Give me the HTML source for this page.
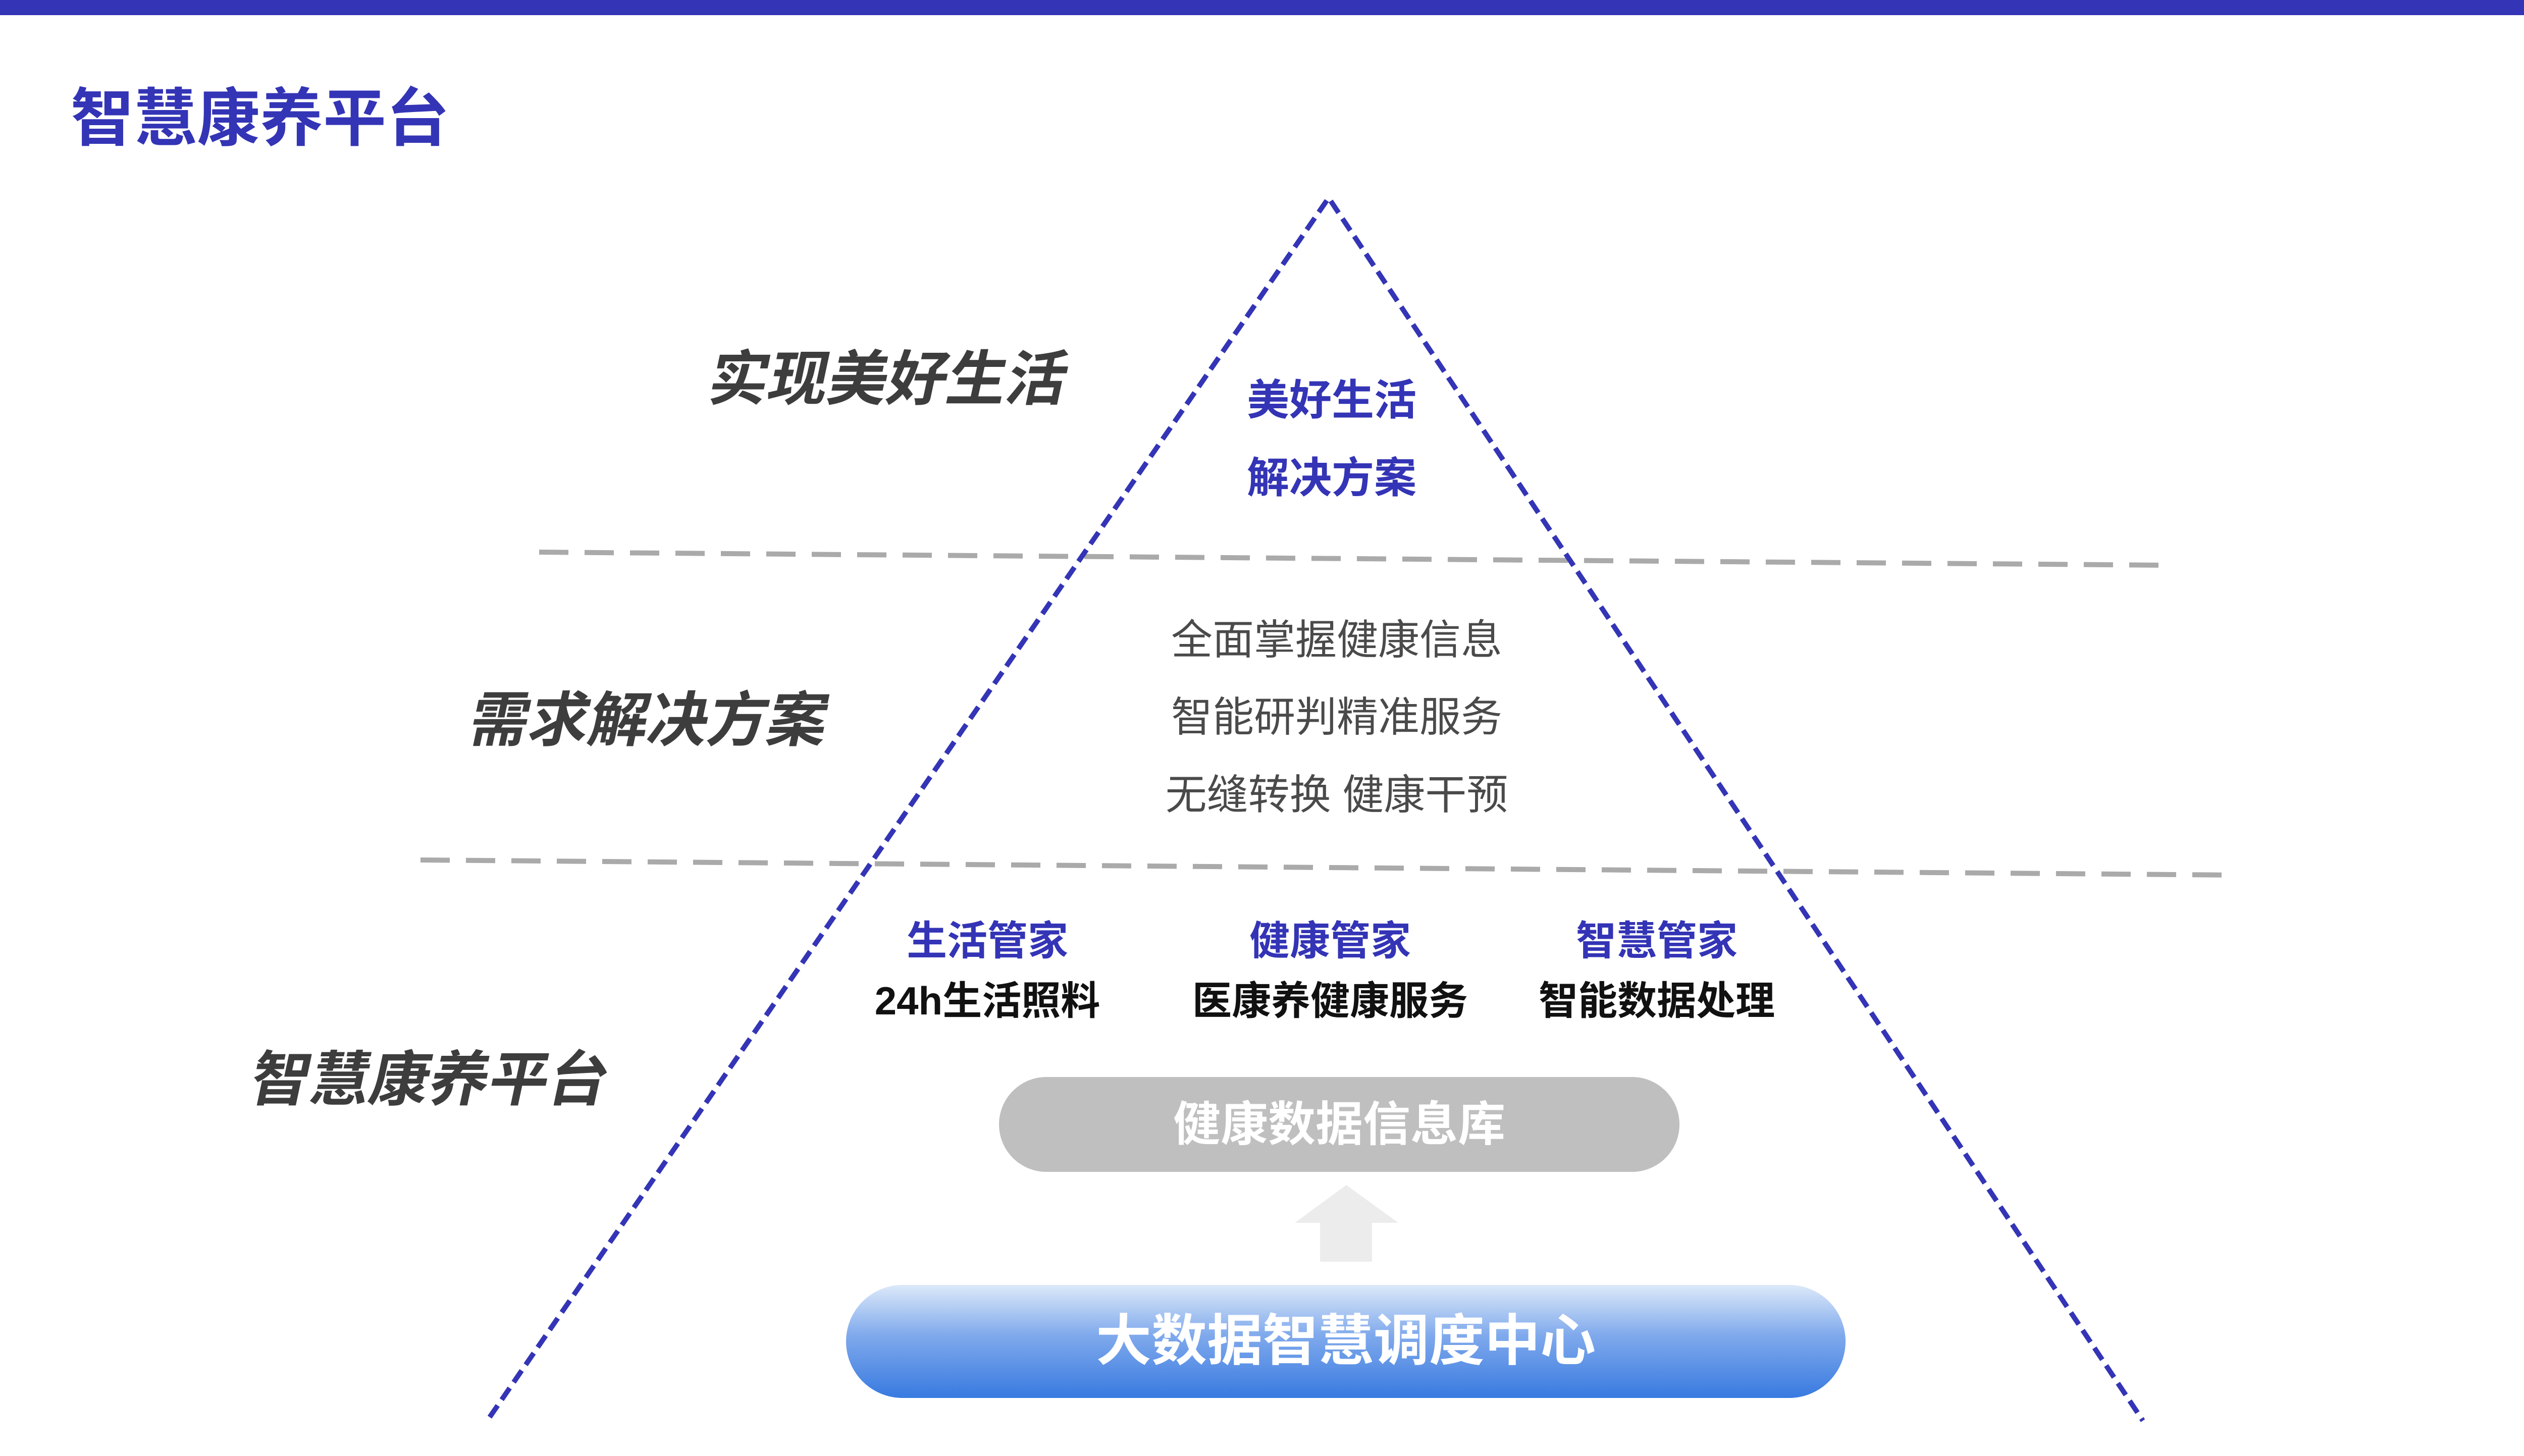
<!DOCTYPE html>
<html><head><meta charset="utf-8"><style>
html,body{margin:0;padding:0;background:#fff;}
body{width:5120px;height:2880px;overflow:hidden;}
svg text{font-family:"Liberation Sans","Noto Sans CJK SC",sans-serif;}
</style></head><body>
<svg width="5120" height="2880" viewBox="0 0 5120 2880" xmlns="http://www.w3.org/2000/svg">
<defs>
<linearGradient id="bg" x1="0" y1="0" x2="0" y2="1">
<stop offset="0" stop-color="#dce9f9"/>
<stop offset="0.45" stop-color="#7fa9ec"/>
<stop offset="1" stop-color="#387ae0"/>
</linearGradient>
</defs>
<rect x="0" y="0" width="5120" height="30" fill="#3434b6"/>
<text x="140" y="278" font-size="125" font-weight="bold" fill="#3434b6">智慧康养平台</text>

<line x1="1068" y1="1094" x2="4294" y2="1120" stroke="#aaaaaa" stroke-width="10" stroke-dasharray="58 32"/>
<line x1="833" y1="1704" x2="4431" y2="1734" stroke="#aaaaaa" stroke-width="10" stroke-dasharray="58 32"/>

<polyline points="970,2808 2632,392 4245,2815" fill="none" stroke="#3434b6" stroke-width="10" stroke-dasharray="28 14"/>

<g font-size="118" font-weight="bold" fill="#3d3d3d">
<text x="1398" y="792" transform="skewX(-12)" transform-origin="1398 792">实现美好生活</text>
<text x="924" y="1468" transform="skewX(-12)" transform-origin="924 1468">需求解决方案</text>
<text x="490" y="2180" transform="skewX(-12)" transform-origin="490 2180">智慧康养平台</text>
</g>

<g font-size="84" font-weight="bold" fill="#3434b6" text-anchor="middle">
<text x="2638" y="822">美好生活</text>
<text x="2638" y="976">解决方案</text>
</g>

<g font-size="82" fill="#4a4a4a" text-anchor="middle">
<text x="2648" y="1296">全面掌握健康信息</text>
<text x="2648" y="1449">智能研判精准服务</text>
<text x="2648" y="1603">无缝转换 健康干预</text>
</g>

<g font-size="80" font-weight="bold" fill="#3434b6" text-anchor="middle">
<text x="1956" y="1892">生活管家</text>
<text x="2635" y="1892">健康管家</text>
<text x="3282" y="1892">智慧管家</text>
</g>
<g font-size="78" font-weight="bold" fill="#111" text-anchor="middle">
<text x="1956" y="2010">24h生活照料</text>
<text x="2635" y="2010">医康养健康服务</text>
<text x="3282" y="2010">智能数据处理</text>
</g>

<rect x="1979" y="2134" width="1348" height="188" rx="94" fill="#bfbfbf"/>
<text x="2653" y="2260" font-size="94" font-weight="bold" fill="#fff" text-anchor="middle">健康数据信息库</text>

<polygon points="2667,2348 2770,2423 2718,2423 2718,2500 2615,2500 2615,2423 2565,2423" fill="#ececec"/>

<rect x="1676" y="2546" width="1980" height="224" rx="112" fill="url(#bg)"/>
<text x="2666" y="2695" font-size="110" font-weight="bold" fill="#fff" text-anchor="middle">大数据智慧调度中心</text>
</svg>
</body></html>
